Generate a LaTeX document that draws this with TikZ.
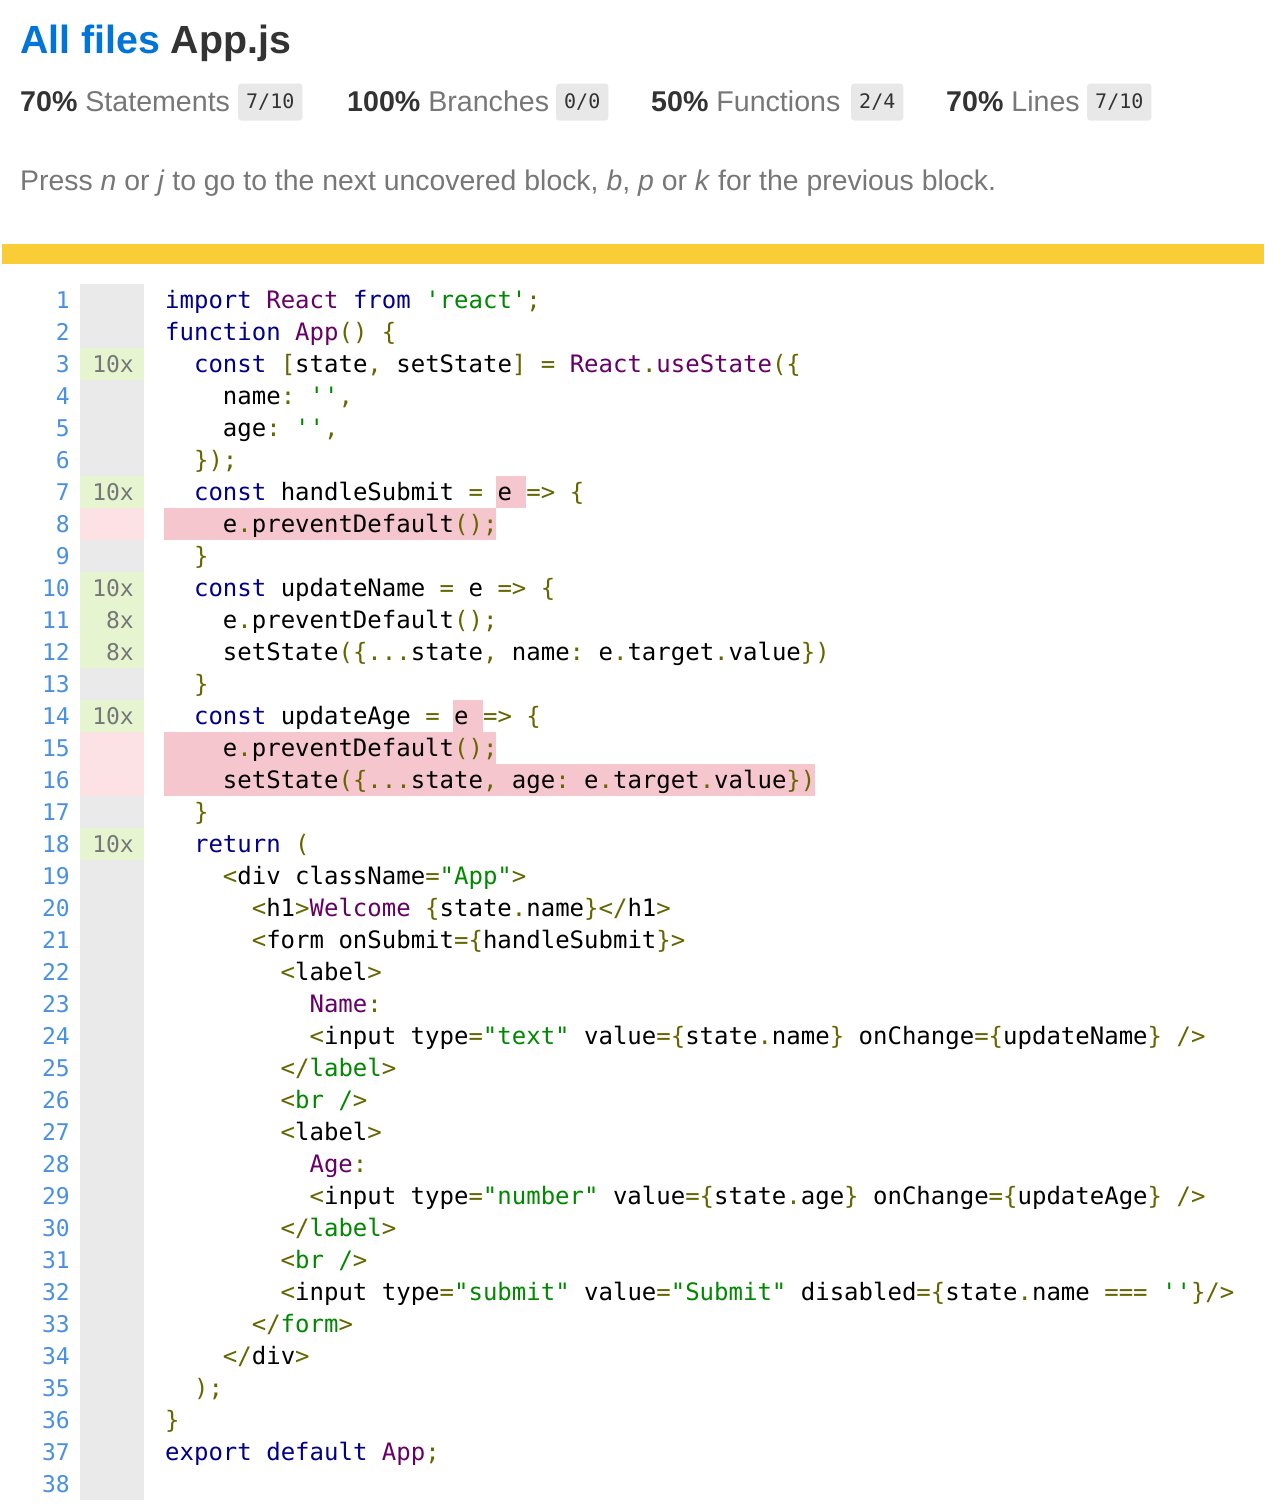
\documentclass[tikz,border=0pt]{standalone}
\usepackage{fontspec}
\setmainfont{Liberation Sans}
\setmonofont{DejaVu Sans Mono}
\definecolor{kw}{HTML}{000088}
\definecolor{ty}{HTML}{660066}
\definecolor{st}{HTML}{008800}
\definecolor{pu}{HTML}{666600}
\definecolor{lnum}{HTML}{4A90E2}
\definecolor{covbg}{HTML}{EAEAEA}
\definecolor{yesbg}{HTML}{E6F5D0}
\definecolor{nobg}{HTML}{FCE1E5}
\definecolor{hl}{HTML}{F6C6CE}
\definecolor{titleblue}{HTML}{0074D9}
\definecolor{dark}{HTML}{333333}
\definecolor{graytxt}{HTML}{777777}
\definecolor{badge}{HTML}{E8E8E8}
\definecolor{bar}{HTML}{F9CD35}
\newcommand{\K}[1]{\textcolor{kw}{#1}}
\newcommand{\T}[1]{\textcolor{ty}{#1}}
\newcommand{\Sx}[1]{\textcolor{st}{#1}}
\newcommand{\Px}[1]{\textcolor{pu}{#1}}
\tikzset{
  code/.style={anchor=base west,inner sep=0pt,font=\ttfamily\fontsize{24}{28}\selectfont,text=black},
  lnumst/.style={anchor=base east,inner sep=0pt,font=\fontsize{23}{28}\selectfont\ttfamily,text=lnum},
  cnt/.style={anchor=base east,inner sep=0pt,font=\fontsize{23}{28}\selectfont\ttfamily,text=graytxt},
  stat/.style={anchor=base west,inner sep=0pt,font=\fontsize{28.6}{32}\selectfont},
  badgest/.style={fill=badge,rounded corners=3pt,inner xsep=8pt,inner ysep=0pt,minimum height=37pt,anchor=west,font=\ttfamily\fontsize{20}{24}\selectfont,text=dark}
}
\newcommand{\cl}[3]{\node[code] (c#1) at (165+14.44*#2,{308+32*(#1-1)}) {#3};}
\newcommand{\lnr}[1]{\node[lnumst] (n#1) at (70,{308+32*(#1-1)}) {#1};}
\newcommand{\cv}[3]{\fill[#3] (80,{284+32*(#1-1)}) rectangle (144,{316+32*(#1-1)});
  \node[cnt] (k#1) at (134,{308+32*(#1-1)}) {#2};}
\begin{document}
\begin{tikzpicture}[x=1pt,y=-1pt]
\useasboundingbox (0,0) rectangle (1264,1504);
\fill[white] (0,0) rectangle (1264,1504);
% header
\node[anchor=base west,inner sep=0pt,font=\bfseries\fontsize{39.3}{44}\selectfont] (title) at (20,53) {\textcolor{titleblue}{All files} \textcolor{dark}{App.js}};
\node[stat] (s1) at (20,111) {\textbf{\textcolor{dark}{70\%}} \textcolor{graytxt}{Statements}};
\node[badgest] (b1) at (238,102) {7/10};
\node[stat] (s2) at (347,111) {\textbf{\textcolor{dark}{100\%}} \textcolor{graytxt}{Branches}};
\node[badgest] (b2) at (556,102) {0/0};
\node[stat] (s3) at (651,111) {\textbf{\textcolor{dark}{50\%}} \textcolor{graytxt}{Functions}};
\node[badgest] (b3) at (851,102) {2/4};
\node[stat] (s4) at (946,111) {\textbf{\textcolor{dark}{70\%}} \textcolor{graytxt}{Lines}};
\node[badgest] (b4) at (1087,102) {7/10};
\node[anchor=base west,inner sep=0pt,font=\fontsize{28.4}{32}\selectfont,text=graytxt] (press) at (20,190) {Press \textit{n} or \textit{j} to go to the next uncovered block, \textit{b}, \textit{p} or \textit{k} for the previous block.};
\fill[bar] (2,244) rectangle (1264,264);
% coverage column
\fill[covbg] (80,284) rectangle (144,1500);
\cv{3}{10x}{yesbg}\cv{7}{10x}{yesbg}\cv{10}{10x}{yesbg}\cv{11}{8x}{yesbg}\cv{12}{8x}{yesbg}
\cv{14}{10x}{yesbg}\cv{18}{10x}{yesbg}
\cv{8}{}{nobg}\cv{15}{}{nobg}\cv{16}{}{nobg}
% highlights
\fill[hl] (496,476) rectangle (526,508);
\fill[hl] (164,508) rectangle (496,540);
\fill[hl] (453,700) rectangle (483,732);
\fill[hl] (164,732) rectangle (496,764);
\fill[hl] (164,764) rectangle (815,796);
\foreach \i in {1,...,38} {\lnr{\i}}
\cl{1}{0}{\K{import} \T{React} \K{from} \Sx{'react'}\Px{;}}
\cl{2}{0}{\K{function} \T{App}\Px{() \{}}
\cl{3}{2}{\K{const} \Px{[}state\Px{,} setState\Px{] =} \T{React}\Px{.}\T{useState}\Px{(\{}}
\cl{4}{4}{name\Px{:} \Sx{''}\Px{,}}
\cl{5}{4}{age\Px{:} \Sx{''}\Px{,}}
\cl{6}{2}{\Px{\});}}
\cl{7}{2}{\K{const} handleSubmit \Px{=} e \Px{=> \{}}
\cl{8}{4}{e\Px{.}preventDefault\Px{();}}
\cl{9}{2}{\Px{\}}}
\cl{10}{2}{\K{const} updateName \Px{=} e \Px{=> \{}}
\cl{11}{4}{e\Px{.}preventDefault\Px{();}}
\cl{12}{4}{setState\Px{(\{...}state\Px{,} name\Px{:} e\Px{.}target\Px{.}value\Px{\})}}
\cl{13}{2}{\Px{\}}}
\cl{14}{2}{\K{const} updateAge \Px{=} e \Px{=> \{}}
\cl{15}{4}{e\Px{.}preventDefault\Px{();}}
\cl{16}{4}{setState\Px{(\{...}state\Px{,} age\Px{:} e\Px{.}target\Px{.}value\Px{\})}}
\cl{17}{2}{\Px{\}}}
\cl{18}{2}{\K{return} \Px{(}}
\cl{19}{4}{\Px{<}div className\Px{=}\Sx{"App"}\Px{>}}
\cl{20}{6}{\Px{<}h1\Px{>}\T{Welcome} \Px{\{}state\Px{.}name\Px{\}</}h1\Px{>}}
\cl{21}{6}{\Px{<}form onSubmit\Px{=\{}handleSubmit\Px{\}>}}
\cl{22}{8}{\Px{<}label\Px{>}}
\cl{23}{10}{\T{Name}\Px{:}}
\cl{24}{10}{\Px{<}input type\Px{=}\Sx{"text"} value\Px{=\{}state\Px{.}name\Px{\}} onChange\Px{=\{}updateName\Px{\} />}}
\cl{25}{8}{\Px{</}\Sx{label}\Px{>}}
\cl{26}{8}{\Px{<}\Sx{br /}\Px{>}}
\cl{27}{8}{\Px{<}label\Px{>}}
\cl{28}{10}{\T{Age}\Px{:}}
\cl{29}{10}{\Px{<}input type\Px{=}\Sx{"number"} value\Px{=\{}state\Px{.}age\Px{\}} onChange\Px{=\{}updateAge\Px{\} />}}
\cl{30}{8}{\Px{</}\Sx{label}\Px{>}}
\cl{31}{8}{\Px{<}\Sx{br /}\Px{>}}
\cl{32}{8}{\Px{<}input type\Px{=}\Sx{"submit"} value\Px{=}\Sx{"Submit"} disabled\Px{=\{}state\Px{.}name \Px{===} \Sx{''}\Px{\}/>}}
\cl{33}{6}{\Px{</}\Sx{form}\Px{>}}
\cl{34}{4}{\Px{</}div\Px{>}}
\cl{35}{2}{\Px{);}}
\cl{36}{0}{\Px{\}}}
\cl{37}{0}{\K{export} \K{default} \T{App}\Px{;}}
\end{tikzpicture}
\end{document}
